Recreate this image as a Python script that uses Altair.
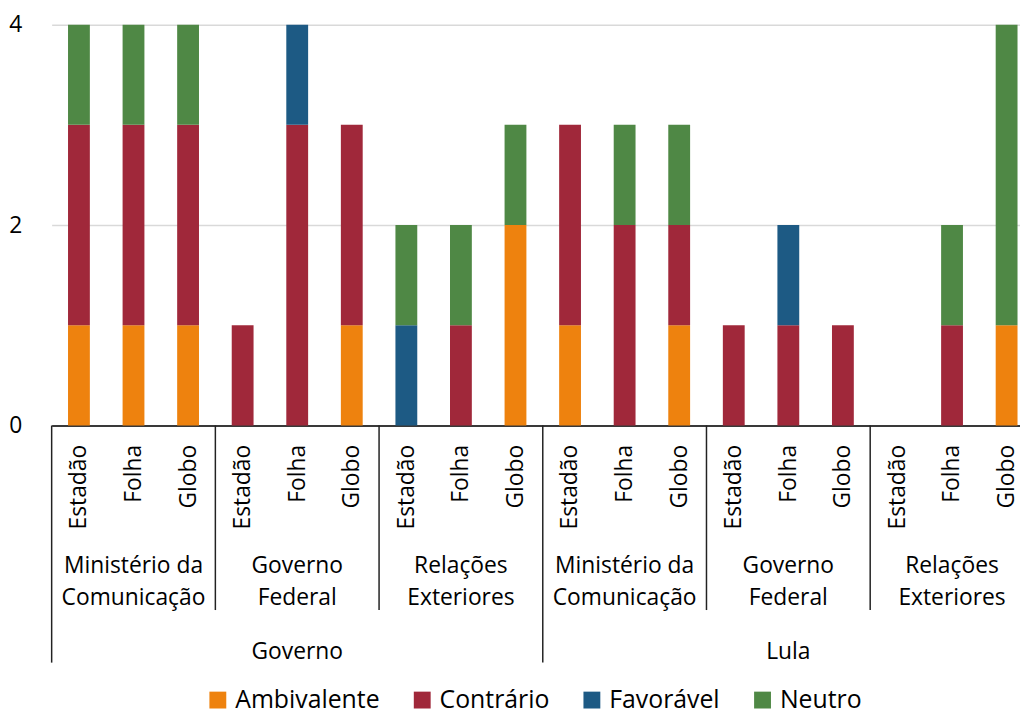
import altair as alt
import pandas as pd

top_groups = ["Governo", "Lula"]
sub_groups = ["Ministério da Comunicação", "Governo Federal", "Relações Exteriores"]
sub_line1 = ["Ministério da", "Governo", "Relações"]
sub_line2 = ["Comunicação", "Federal", "Exteriores"]
outlets = ["Estadão", "Folha", "Globo"]
categories = ["Ambivalente", "Contrário", "Favorável", "Neutro"]
colors = ["#EE820E", "#A0283A", "#1D5A84", "#4F8845"]

ambivalente = [1, 1, 1, 0, 0, 1, 0, 0, 2, 1, 0, 1, 0, 0, 0, 0, 0, 1]
contrario = [2, 2, 2, 1, 3, 2, 0, 1, 0, 2, 2, 1, 1, 1, 1, 0, 1, 0]
favoravel = [0, 0, 0, 0, 1, 0, 1, 0, 0, 0, 0, 0, 0, 1, 0, 0, 0, 0]
neutro = [1, 1, 1, 0, 0, 0, 1, 1, 1, 0, 1, 1, 0, 0, 0, 0, 1, 3]
series = [ambivalente, contrario, favoravel, neutro]

FONT = "Open Sans"
FS = 23
LEG_FS = 25

W = 976
BAND = 55
n = len(top_groups) * len(sub_groups) * len(outlets)

rows = []
for i in range(n):
    for ci, (cat, vals) in enumerate(zip(categories, series)):
        if vals[i] > 0:
            rows.append({"idx": i, "cat": cat, "value": vals[i], "ord": ci})
bars_df = pd.DataFrame(rows)

sub_rows = []
i = 0
for t in top_groups:
    for l1, l2 in zip(sub_line1, sub_line2):
        sub_rows.append({"idx": i + 1, "l1": l1, "l2": l2})
        i += len(outlets)
sub_df = pd.DataFrame(sub_rows)

per_top = len(sub_groups) * len(outlets)
top_df = pd.DataFrame([{"idx": g * per_top + (per_top - 1) / 2, "label": t}
                       for g, t in enumerate(top_groups)])

long_sep = pd.DataFrame({"pos": [g * per_top - 0.5 for g in range(len(top_groups))]})
short_sep = pd.DataFrame({"pos": [g * per_top + s * len(outlets) - 0.5
                                  for g in range(len(top_groups))
                                  for s in range(1, len(sub_groups))]})

xscale = alt.Scale(domain=[-0.5, -0.5 + W / BAND], nice=False, zero=False, padding=0)
outlet_arr = "[" + ",".join(f"'{o}'" for o in outlets) + "]"

bars = alt.Chart(bars_df).mark_bar(size=22).encode(
    x=alt.X("idx:Q", scale=xscale,
            axis=alt.Axis(title=None, values=list(range(n)),
                          labelExpr=f"{outlet_arr}[datum.value % 3]",
                          labelAngle=270, labelPadding=19, ticks=False, grid=False,
                          labelFlush=False, labelOverlap=False, labelBound=False,
                          domainColor="#000000", domainWidth=1.5,
                          labelFontSize=FS, labelFont=FONT, labelColor="#000000")),
    y=alt.Y("value:Q", stack="zero", scale=alt.Scale(domain=[0, 4], nice=False),
            axis=alt.Axis(title=None, values=[0, 2, 4], ticks=False, domain=False,
                          gridColor="#D9D9D9", gridWidth=1.5, labelPadding=30,
                          labelFontSize=FS, labelFont=FONT, labelColor="#000000")),
    color=alt.Color("cat:N", scale=alt.Scale(domain=categories, range=colors),
                    legend=alt.Legend(orient="none", legendX=155, legendY=668,
                                      direction="horizontal", columns=4, title=None,
                                      symbolType="square", symbolSize=289,
                                      symbolStrokeWidth=0, labelFontSize=LEG_FS,
                                      labelFont=FONT, labelColor="#000000",
                                      columnPadding=30, labelOffset=5)),
    order=alt.Order("ord:Q", sort="ascending"),
)

sub1 = alt.Chart(sub_df).mark_text(fontSize=FS, font=FONT, color="#000000", baseline="middle").encode(
    x=alt.X("idx:Q", scale=xscale), y=alt.value(546), text="l1:N")
sub2 = alt.Chart(sub_df).mark_text(fontSize=FS, font=FONT, color="#000000", baseline="middle").encode(
    x=alt.X("idx:Q", scale=xscale), y=alt.value(578), text="l2:N")
top_txt = alt.Chart(top_df).mark_text(fontSize=FS, font=FONT, color="#000000", baseline="middle").encode(
    x=alt.X("idx:Q", scale=xscale), y=alt.value(632), text="label:N")

rule_long = alt.Chart(long_sep).mark_rule(color="#222222", strokeWidth=1.5).encode(
    x=alt.X("pos:Q", scale=xscale), y=alt.value(404), y2=alt.value(643))
rule_short = alt.Chart(short_sep).mark_rule(color="#222222", strokeWidth=1.5).encode(
    x=alt.X("pos:Q", scale=xscale), y=alt.value(404), y2=alt.value(590))

chart = alt.layer(bars, sub1, sub2, top_txt, rule_long, rule_short).properties(
    width=W, height=404,
    autosize=alt.AutoSizeParams(type="none"),
    padding={"left": 44, "top": 14, "right": 0, "bottom": 289},
).configure_view(stroke=None)

chart.save("out.html", embed_options={"renderer": "svg", "actions": False})
